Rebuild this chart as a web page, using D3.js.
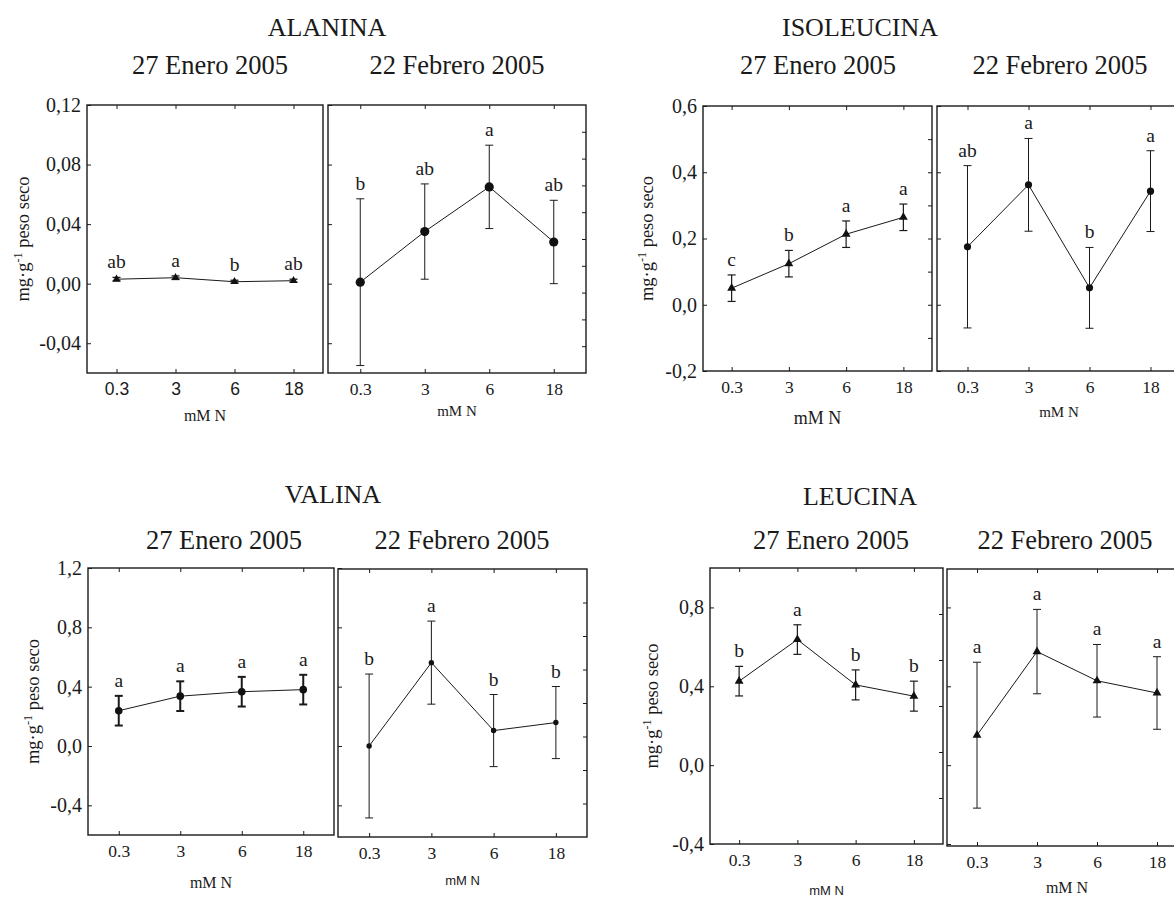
<!DOCTYPE html>
<html>
<head>
<meta charset="utf-8">
<script src="https://cdn.jsdelivr.net/npm/d3@7"></script>
<style>
  body { margin: 0; background: #fff; }
  svg { display: block; }
</style>
</head>
<body>
<svg id="chart" width="1174" height="897"></svg>
<script>
// ---- data -------------------------------------------------------------
const doses = ["0.3", "3", "6", "18"];
const dates = ["27 Enero 2005", "22 Febrero 2005"];
const aminoacids = ["ALANINA", "ISOLEUCINA", "VALINA", "LEUCINA"];

// ALANINA (mg g-1 peso seco)
const alaJan = [0.003, 0.004, 0.0013, 0.002];
const alaJanErr = [0.0012, 0.0012, 0.001, 0.001];
const alaJanLetters = ["ab", "a", "b", "ab"];
const alaFeb = [0.001, 0.035, 0.065, 0.028];
const alaFebErr = [0.056, 0.032, 0.028, 0.028];
const alaFebLetters = ["b", "ab", "a", "ab"];
const alaTicks = [-0.04, 0.00, 0.04, 0.08, 0.12];

// ISOLEUCINA
const ileJan = [0.05, 0.124, 0.213, 0.264];
const ileJanErr = [0.04, 0.04, 0.04, 0.04];
const ileJanLetters = ["c", "b", "a", "a"];
const ileFeb = [0.175, 0.362, 0.051, 0.343];
const ileFebErr = [0.245, 0.14, 0.122, 0.122];
const ileFebLetters = ["ab", "a", "b", "a"];
const ileTicks = [-0.2, 0.0, 0.2, 0.4, 0.6];

// VALINA
const valJan = [0.238, 0.336, 0.366, 0.38];
const valJanErr = [0.10, 0.10, 0.10, 0.10];
const valJanLetters = ["a", "a", "a", "a"];
const valFeb = [0.0, 0.562, 0.104, 0.158];
const valFebErr = [0.485, 0.28, 0.243, 0.243];
const valFebLetters = ["b", "a", "b", "b"];
const valTicks = [-0.4, 0.0, 0.4, 0.8, 1.2];

// LEUCINA
const leuJan = [0.426, 0.637, 0.407, 0.35];
const leuJanErr = [0.075, 0.075, 0.076, 0.076];
const leuJanLetters = ["b", "a", "b", "b"];
const leuFeb = [0.152, 0.576, 0.428, 0.366];
const leuFebErr = [0.37, 0.214, 0.184, 0.184];
const leuFebLetters = ["a", "a", "a", "a"];
const leuTicks = [-0.4, 0.0, 0.4, 0.8];

// ---- layout -----------------------------------------------------------
const SERIF = "'Liberation Serif', 'Times New Roman', serif";
const SANS = "'Liberation Sans', Arial, sans-serif";
const INK = "#1a1a1a";

const groups = [
  {
    name: aminoacids[0], titleX: 327, titleY: 36, dateY: 74, digits: 2,
    domain: [-0.06, 0.12], ticks: alaTicks, labelX: 23,
    panels: [
      { x0: 87, x1: 323, y0: 105, y1: 373, dateX: 210, mean: alaJan, err: alaJanErr, letters: alaJanLetters,
        marker: "triangle", size: 28, barW: 1.3, tickFont: SANS, axisFont: SERIF, axisY: 421, axisSize: 16 },
      { x0: 328, x1: 586, y0: 105, y1: 373, dateX: 457, mean: alaFeb, err: alaFebErr, letters: alaFebLetters,
        marker: "circle", r: 4.6, barW: 1, tickFont: SERIF, axisFont: SERIF, axisY: 416, axisSize: 15, rightDiv: 10 }
    ]
  },
  {
    name: aminoacids[1], titleX: 860, titleY: 36, dateY: 74, digits: 1,
    domain: [-0.2, 0.6], ticks: ileTicks, labelX: 647,
    panels: [
      { x0: 703, x1: 932, y0: 106, y1: 371, dateX: 818, mean: ileJan, err: ileJanErr, letters: ileJanLetters,
        marker: "triangle", size: 34, barW: 1.2, tickFont: SERIF, axisFont: SERIF, axisY: 424, axisSize: 18, rightDiv: 8 },
      { x0: 937, x1: 1181, y0: 106, y1: 371, dateX: 1060, mean: ileFeb, err: ileFebErr, letters: ileFebLetters,
        marker: "circle", r: 3.6, barW: 1, tickFont: SERIF, axisFont: SERIF, axisY: 417, axisSize: 15 }
    ]
  },
  {
    name: aminoacids[2], titleX: 333, titleY: 503, dateY: 549, digits: 1,
    domain: [-0.6, 1.2], ticks: valTicks, labelX: 33,
    panels: [
      { x0: 88, x1: 334, y0: 568, y1: 835, dateX: 224, mean: valJan, err: valJanErr, letters: valJanLetters,
        marker: "circle", r: 3.8, barW: 2, tickFont: SERIF, axisFont: SERIF, axisY: 888, axisSize: 16 },
      { x0: 338, x1: 587, y0: 569, y1: 837, dateX: 462, mean: valFeb, err: valFebErr, letters: valFebLetters,
        marker: "circle", r: 2.7, barW: 1, tickFont: SERIF, axisFont: SANS, axisY: 885, axisSize: 13, rightDiv: 8 }
    ]
  },
  {
    name: aminoacids[3], titleX: 860, titleY: 505, dateY: 549, digits: 1,
    domain: [-0.4, 1.0], ticks: leuTicks, labelX: 652,
    panels: [
      { x0: 710, x1: 943, y0: 568, y1: 844, dateX: 831, mean: leuJan, err: leuJanErr, letters: leuJanLetters,
        marker: "triangle", size: 34, barW: 1.2, tickFont: SERIF, axisFont: SANS, axisY: 895, axisSize: 13, rightDiv: 6 },
      { x0: 947, x1: 1187, y0: 569, y1: 846, dateX: 1065, mean: leuFeb, err: leuFebErr, letters: leuFebLetters,
        marker: "triangle", size: 34, barW: 1, tickFont: SERIF, axisFont: SERIF, axisY: 893, axisSize: 16 }
    ]
  }
];

const svg = d3.select("#chart");
const TICK = 4;

function decimalComma(digits) {
  const f = d3.format("." + digits + "f");
  return d => f(d).replace(".", ",").replace("\u2212", "-");
}

groups.forEach(g => {
  const gg = svg.append("g").attr("class", "group");

  gg.append("text")
    .attr("x", g.titleX).attr("y", g.titleY)
    .attr("text-anchor", "middle")
    .style("font-family", SERIF).style("font-size", "26px").attr("fill", INK)
    .text(g.name);

  g.panels.forEach((p, i) => {
    const x = d3.scalePoint().domain(doses).range([p.x0, p.x1]).padding(0.5);
    const y = d3.scaleLinear().domain(g.domain).range([g.panels[0].y1, g.panels[0].y0]);
    const pg = gg.append("g").attr("class", "panel");

    // date heading
    pg.append("text")
      .attr("x", p.dateX).attr("y", g.dateY)
      .attr("text-anchor", "middle")
      .style("font-family", SERIF).style("font-size", "26.5px").attr("fill", INK)
      .text(dates[i]);

    // inward ticks on all four sides
    const tickStyle = sel => {
      sel.select(".domain").remove();
      sel.selectAll(".tick line").attr("stroke", INK).attr("stroke-width", 1);
      sel.selectAll(".tick text").remove();
    };
    pg.append("g").attr("transform", `translate(0,${p.y1})`)
      .call(d3.axisTop(x).tickSize(TICK)).call(tickStyle);
    pg.append("g").attr("transform", `translate(0,${p.y0})`)
      .call(d3.axisBottom(x).tickSize(TICK)).call(tickStyle);
    pg.append("g").attr("transform", `translate(${p.x0},0)`)
      .call(d3.axisRight(y).tickValues(g.ticks).tickSize(TICK)).call(tickStyle);
    if (p.rightDiv) {
      const yr = d3.scaleLinear().domain([0, p.rightDiv]).range([p.y1, p.y0]);
      pg.append("g").attr("transform", `translate(${p.x1},0)`)
        .call(d3.axisLeft(yr).tickValues(d3.range(1, p.rightDiv)).tickSize(TICK)).call(tickStyle);
    }

    // frame
    pg.append("rect")
      .attr("x", p.x0).attr("y", p.y0)
      .attr("width", p.x1 - p.x0).attr("height", p.y1 - p.y0)
      .attr("fill", "none").attr("stroke", INK).attr("stroke-width", 1.4);

    // y tick labels (first panel of each pair)
    if (i === 0) {
      const ax = pg.append("g").attr("transform", `translate(${p.x0},0)`)
        .call(d3.axisLeft(y).tickValues(g.ticks).tickFormat(decimalComma(g.digits)).tickSize(0).tickPadding(6));
      ax.select(".domain").remove();
      ax.selectAll("text").style("font-family", SERIF).style("font-size", "20px").attr("fill", INK);

      // y axis title
      const lbl = pg.append("text")
        .attr("transform", `translate(${g.labelX},${(p.y0 + p.y1) / 2}) rotate(-90)`)
        .attr("text-anchor", "middle").attr("dy", "0.35em")
        .style("font-family", SERIF).style("font-size", "18.5px").attr("fill", INK);
      lbl.append("tspan").text("mg\u00B7g");
      lbl.append("tspan").attr("dy", -7).style("font-size", "12px").text("-1");
      lbl.append("tspan").attr("dy", 7).text(" peso seco");
    }

    // x tick labels
    const bx = pg.append("g").attr("transform", `translate(0,${p.y1})`)
      .call(d3.axisBottom(x).tickSize(0).tickPadding(10));
    bx.select(".domain").remove();
    bx.selectAll("text").style("font-family", p.tickFont).style("font-size", "17.5px").attr("fill", INK);

    // x axis title
    pg.append("text")
      .attr("x", (p.x0 + p.x1) / 2).attr("y", p.axisY)
      .attr("text-anchor", "middle")
      .style("font-family", p.axisFont).style("font-size", p.axisSize + "px").attr("fill", INK)
      .text("mM N");

    const pts = doses.map((d, k) => ({ dose: d, m: p.mean[k], e: p.err[k], l: p.letters[k] }));

    // error bars
    const eb = pg.append("g").attr("stroke", INK).attr("stroke-width", p.barW);
    pts.forEach(d => {
      const cx = x(d.dose);
      eb.append("line").attr("x1", cx).attr("x2", cx).attr("y1", y(d.m - d.e)).attr("y2", y(d.m + d.e));
      [d.m - d.e, d.m + d.e].forEach(v => {
        eb.append("line").attr("x1", cx - 4).attr("x2", cx + 4).attr("y1", y(v)).attr("y2", y(v));
      });
    });

    // connecting line
    pg.append("path")
      .datum(pts)
      .attr("fill", "none").attr("stroke", INK).attr("stroke-width", 1)
      .attr("d", d3.line().x(d => x(d.dose)).y(d => y(d.m)));

    // markers
    if (p.marker === "circle") {
      pg.selectAll("circle.pt").data(pts).join("circle")
        .attr("class", "pt")
        .attr("cx", d => x(d.dose)).attr("cy", d => y(d.m)).attr("r", p.r)
        .attr("fill", "#111");
    } else {
      const tri = d3.symbol().type(d3.symbolTriangle).size(p.size);
      pg.selectAll("path.pt").data(pts).join("path")
        .attr("class", "pt")
        .attr("transform", d => `translate(${x(d.dose)},${y(d.m)})`)
        .attr("d", tri).attr("fill", "#111");
    }

    // significance letters
    pg.selectAll("text.sig").data(pts).join("text")
      .attr("class", "sig")
      .attr("x", d => x(d.dose)).attr("y", d => y(d.m + d.e) - 9)
      .attr("text-anchor", "middle")
      .style("font-family", SERIF).style("font-size", "19.5px").attr("fill", INK)
      .text(d => d.l);
  });
});
</script>
</body>
</html>
